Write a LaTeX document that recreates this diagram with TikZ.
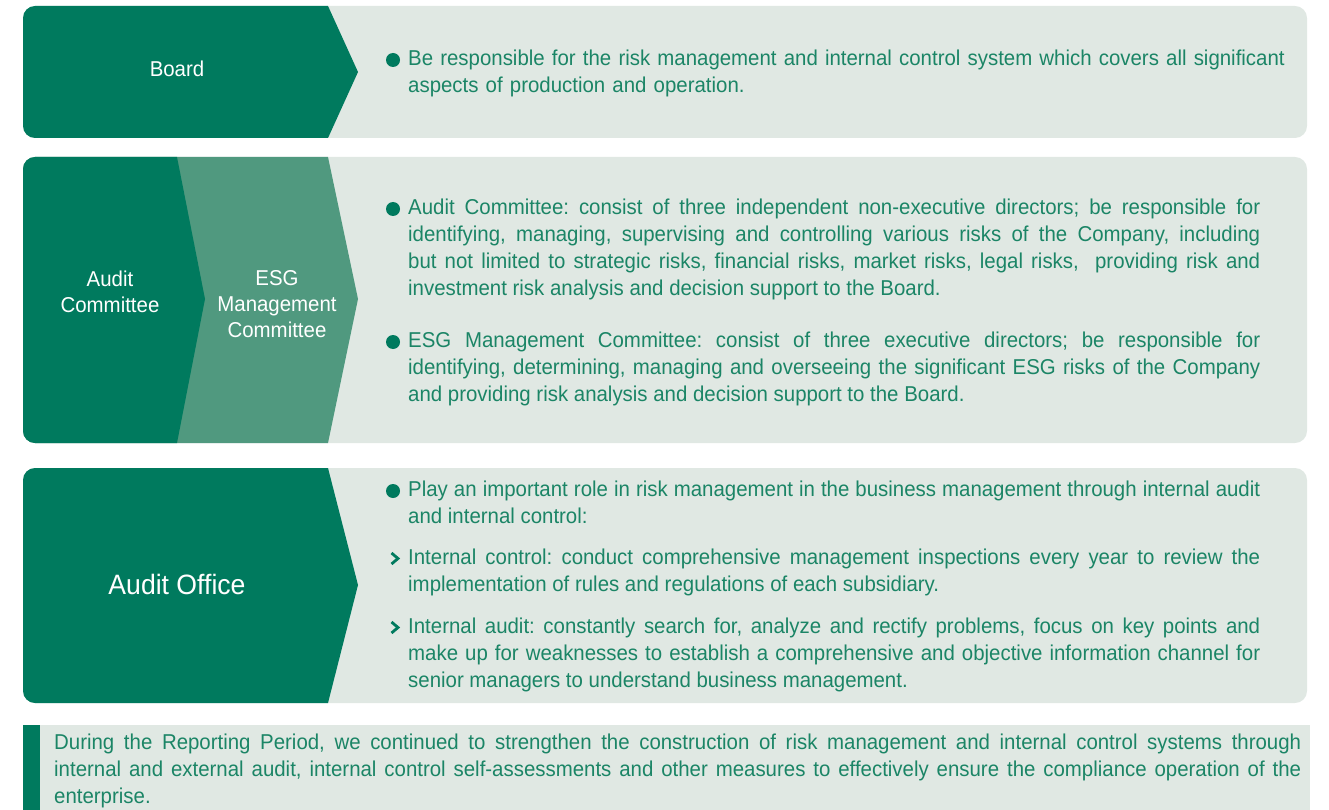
\documentclass[tikz,border=0pt]{standalone}
\usepackage{fontspec}
\setmainfont{Liberation Sans}[FakeStretch=0.95]
\definecolor{dkgreen}{HTML}{007A5E}
\definecolor{mdgreen}{HTML}{50997F}
\definecolor{ltbg}{HTML}{E0E8E3}
\definecolor{txgreen}{HTML}{1B8566}
\frenchspacing
\begin{document}
\begin{tikzpicture}[x=1pt,y=-1pt,
  body/.style={anchor=north west,inner sep=0pt,text=txgreen,font=\fontsize{21.5}{26.8}\selectfont,text width=852pt,align=justify},
  lbl/.style={text=white,font=\fontsize{21.5}{26}\selectfont,align=center,inner sep=0pt},
  bul/.style={fill=dkgreen},
  chev/.style={draw=dkgreen,line width=2.8pt}]
\useasboundingbox (0,0) rectangle (1329,810);
% Box 1
\fill[ltbg,rounded corners=12pt] (23,6) rectangle (1307,138);
\begin{scope}
\clip[rounded corners=12pt] (23,6) rectangle (1307,138);
\fill[dkgreen] (0,6) -- (328,6) -- (358,72) -- (328,138) -- (0,138) -- cycle;
\end{scope}
\node[lbl] (board) at (177,69) {Board};
\fill[bul] (393,60) circle[radius=7pt];
\node[body,text width=900pt,align=left] (t1) at (408,50) {Be responsible for the risk management and internal control system which covers all significant\\ aspects of production and operation.};
% Box 2
\fill[ltbg,rounded corners=12pt] (23,157) rectangle (1307,443);
\begin{scope}
\clip[rounded corners=12pt] (23,157) rectangle (1307,443);
\fill[mdgreen] (0,157) -- (328,157) -- (358,299) -- (328,443) -- (0,443) -- cycle;
\fill[dkgreen] (0,157) -- (177,157) -- (205,299) -- (177,443) -- (0,443) -- cycle;
\end{scope}
\node[lbl] (ac) at (110,292) {Audit\\Committee};
\node[lbl] (esg) at (277,304) {ESG\\Management\\Committee};
\fill[bul] (393,209) circle[radius=7pt];
\node[body] (t2) at (408,199) {Audit Committee: consist of three independent non-executive directors; be responsible for\linebreak identifying, managing, supervising and controlling various risks of the Company, including\linebreak but not limited to strategic risks, financial risks, market risks, legal risks,~ providing risk and\linebreak investment risk analysis and decision support to the Board.};
\fill[bul] (393,342) circle[radius=7pt];
\node[body] (t3) at (408,332) {ESG Management Committee: consist of three executive directors; be responsible for\linebreak identifying, determining, managing and overseeing the significant ESG risks of the Company\linebreak and providing risk analysis and decision support to the Board.};
% Box 3
\fill[ltbg,rounded corners=12pt] (23,468) rectangle (1307,703);
\begin{scope}
\clip[rounded corners=12pt] (23,468) rectangle (1307,703);
\fill[dkgreen] (0,468) -- (328,468) -- (358,585) -- (328,703) -- (0,703) -- cycle;
\end{scope}
\node[lbl,font=\fontsize{28}{30}\selectfont] (ao) at (177,584) {Audit Office};
\fill[bul] (393,491) circle[radius=7pt];
\node[body] (t4) at (408,481) {Play an important role in risk management in the business management through internal audit\linebreak and internal control:};
\draw[chev] (391.5,553) -- (398,558.5) -- (391.5,564);
\node[body] (t5) at (408,549) {Internal control: conduct comprehensive management inspections every year to review the\linebreak implementation of rules and regulations of each subsidiary.};
\draw[chev] (391.5,622) -- (398,627.5) -- (391.5,633);
\node[body] (t6) at (408,618) {Internal audit: constantly search for, analyze and rectify problems, focus on key points and\linebreak make up for weaknesses to establish a comprehensive and objective information channel for\linebreak senior managers to understand business management.};
% Bottom
\fill[ltbg] (23,725) rectangle (1310,810);
\fill[dkgreen] (23,725) rectangle (40,810);
\node[body,text width=1247pt] (t7) at (54,734) {During the Reporting Period, we continued to strengthen the construction of risk management and internal control systems through\linebreak internal and external audit, internal control self-assessments and other measures to effectively ensure the compliance operation of the\linebreak enterprise.};
\end{tikzpicture}
\end{document}
